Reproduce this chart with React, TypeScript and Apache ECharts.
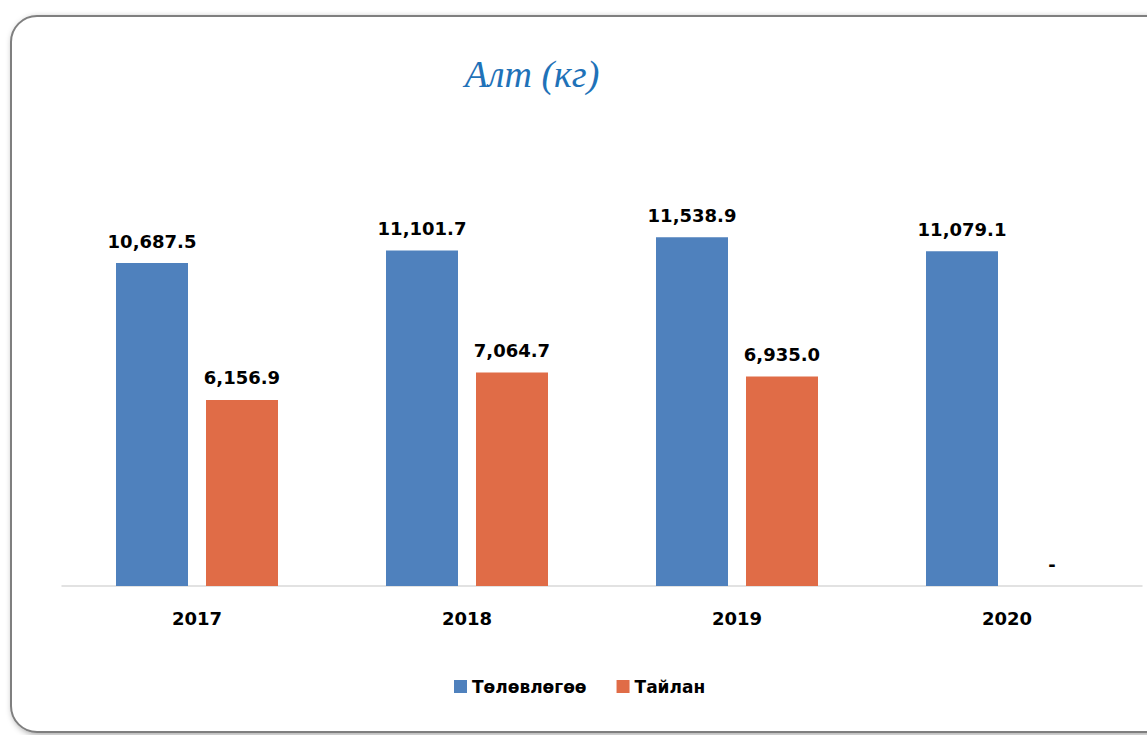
import React, { useEffect, useRef } from "react";
import * as echarts from "echarts";

const categories = ["2017", "2018", "2019", "2020"];
const planValues = [10687.5, 11101.7, 11538.9, 11079.1];
const reportValues = [6156.9, 7064.7, 6935.0, 0];
const seriesNames = ["Төлөвлөгөө", "Тайлан"];
const titleText = "Алт (кг)";

const fmt = (v: number) =>
  v === 0 ? "-" : v.toLocaleString("en-US", { minimumFractionDigits: 1, maximumFractionDigits: 1 });

export default function App() {
  const ref = useRef<HTMLDivElement>(null);
  useEffect(() => {
    const chart = echarts.init(ref.current!, undefined, { renderer: "svg" });
    const labelStyle = {
      show: true,
      position: "top" as const,
      distance: 13,
      fontFamily: "DejaVu Sans",
      fontWeight: "bold" as const,
      fontSize: 18,
      color: "#000",
      formatter: (p: any) => fmt(p.value),
    };
    chart.setOption({
      animation: false,
      backgroundColor: "#fff",
      title: {
        text: titleText,
        left: 527,
        top: 50,
        textAlign: "center",
        textStyle: {
          fontFamily: "Liberation Serif",
          fontStyle: "italic",
          fontWeight: "normal",
          fontSize: 38,
          color: "#1F72B8",
        },
      },
      graphic: [
        {
          type: "rect",
          z: -10,
          silent: true,
          shape: { x: 11, y: 16, width: 1170, height: 716, r: 26 },
          style: {
            fill: "#fff",
            stroke: "#7f7f7f",
            lineWidth: 2,
            shadowBlur: 6,
            shadowOffsetX: 2,
            shadowOffsetY: 2,
            shadowColor: "rgba(0,0,0,0.35)",
          },
        },
      ],
      legend: {
        data: seriesNames,
        left: 449,
        top: 673,
        itemWidth: 13,
        itemHeight: 13,
        itemGap: 30,
        icon: "rect",
        textStyle: {
          fontFamily: "DejaVu Sans",
          fontWeight: "bold",
          fontSize: 17,
          color: "#000",
        },
      },
      grid: { left: 62, right: 5, top: 163, bottom: 149 },
      xAxis: {
        type: "category",
        data: categories,
        axisLine: { lineStyle: { color: "#d9d9d9", width: 1.5 } },
        axisTick: { show: false },
        axisLabel: {
          margin: 23,
          fontFamily: "DejaVu Sans",
          fontWeight: "bold",
          fontSize: 18,
          color: "#000",
        },
      },
      yAxis: {
        type: "value",
        min: 0,
        max: 14000,
        show: false,
        splitLine: { show: false },
      },
      series: [
        {
          name: seriesNames[0],
          type: "bar",
          data: planValues,
          barWidth: 72,
          barGap: "25%",
          itemStyle: { color: "#4F81BD" },
          label: labelStyle,
        },
        {
          name: seriesNames[1],
          type: "bar",
          data: reportValues,
          barWidth: 72,
          barGap: "25%",
          itemStyle: { color: "#E06C47" },
          label: labelStyle,
        },
      ],
    });
    return () => chart.dispose();
  }, []);
  return (
    <div
      ref={ref}
      style={{ position: "fixed", left: 0, top: 0, width: 1147, height: 735 }}
    />
  );
}
